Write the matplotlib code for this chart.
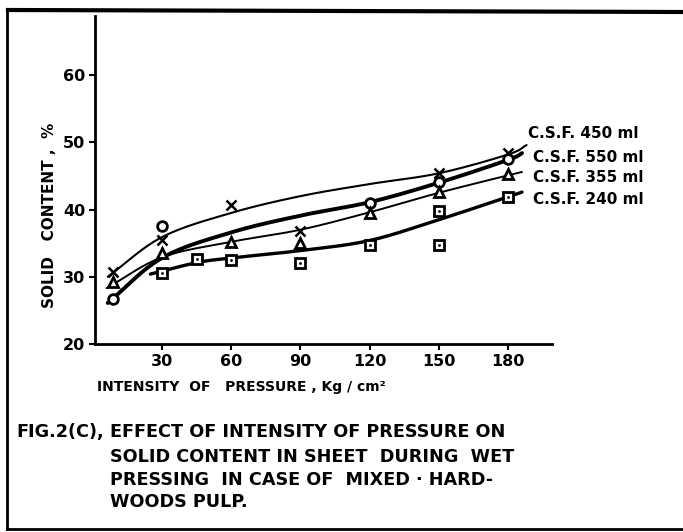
import numpy as np
import matplotlib
matplotlib.use("Agg")
import matplotlib.pyplot as plt
from matplotlib.lines import Line2D

# measured points (pressure Kg/cm2, solid content %)
x450 = [9, 30, 60, 90, 150, 180]
y450 = [30.7, 35.5, 40.7, 36.8, 45.4, 48.4]
x550 = [9, 30, 120, 150, 180]
y550 = [26.7, 37.6, 41.0, 44.1, 47.5]
x355 = [9, 30, 60, 90, 120, 150, 180]
y355 = [29.2, 33.5, 35.2, 35.1, 39.5, 42.6, 45.3]
x240 = [30, 45, 60, 90, 120, 150, 150, 180]
y240 = [30.6, 32.6, 32.5, 32.1, 34.7, 39.8, 34.7, 41.9]

# hand drawn curves
cx450 = [6.5, 30, 60, 90, 120, 150, 180, 188]
cy450 = [30.0, 35.9, 39.5, 42.0, 43.8, 45.4, 48.2, 49.6]
cx550 = [6.5, 30, 60, 90, 120, 150, 180, 186]
cy550 = [26.1, 32.8, 36.6, 39.1, 41.1, 44.0, 47.4, 48.4]
cx355 = [6, 30, 60, 90, 120, 150, 180, 186]
cy355 = [28.3, 32.9, 35.2, 37.0, 39.6, 42.5, 45.1, 45.6]
cx240 = [25, 45, 60, 90, 120, 150, 180, 186]
cy240 = [30.4, 32.1, 32.8, 33.9, 35.4, 38.5, 41.9, 42.6]

labels = ["C.S.F. 450 ml", "C.S.F. 550 ml", "C.S.F. 355 ml", "C.S.F. 240 ml"]

fig = plt.figure(figsize=(6.83, 5.32), dpi=100)
ax = fig.add_axes([95 / 683, 1 - 344 / 532, (552 - 95) / 683, (344 - 16) / 532])


def smooth(cx, cy, n=20):
    # catmull-rom through the traced points, only to get a smooth pen line
    P = np.column_stack([cx, cy]).astype(float)
    P = np.vstack([2 * P[0] - P[1], P, 2 * P[-1] - P[-2]])
    out = []
    t = np.linspace(0, 1, n, endpoint=False)[:, None]
    for i in range(1, len(P) - 2):
        p0, p1, p2, p3 = P[i - 1], P[i], P[i + 1], P[i + 2]
        out.append(0.5 * (2 * p1 + (-p0 + p2) * t
                          + (2 * p0 - 5 * p1 + 4 * p2 - p3) * t ** 2
                          + (-p0 + 3 * p1 - 3 * p2 + p3) * t ** 3))
    out.append(P[-2][None, :])
    out = np.vstack(out)
    return out[:, 0], out[:, 1]


for cx, cy, lw in [(cx450, cy450, 1.5), (cx550, cy550, 2.8),
                   (cx355, cy355, 1.4), (cx240, cy240, 2.4)]:
    xs, ys = smooth(cx, cy)
    ax.plot(xs, ys, color="black", lw=lw, solid_capstyle="round")

ax.plot(x450, y450, "x", color="black", ms=7, mew=1.8)
ax.plot(x550, y550, "o", color="black", mfc="white", ms=7, mew=2)
ax.plot(x355, y355, "^", color="black", mfc="white", ms=7, mew=2)
ax.plot(x240, y240, "s", color="black", mfc="white", ms=7, mew=2)
ax.plot(x240, y240, ".", color="black", ms=2)

ax.set_xlim(1, 199)
ax.set_ylim(20, 68.8)
ax.set_xticks([30, 60, 90, 120, 150, 180])
ax.set_yticks([20, 30, 40, 50, 60])
for s in ["top", "right"]:
    ax.spines[s].set_visible(False)
for s in ["left", "bottom"]:
    ax.spines[s].set_linewidth(2)
ax.tick_params(direction="out", length=4, width=1.5, pad=3, labelsize=11.5)
for t in ax.get_xticklabels() + ax.get_yticklabels():
    t.set_fontweight("bold")

# curve labels on the right
for lab, yy in zip(labels, [133, 157, 178, 200]):
    fig.text((528 if yy == 133 else 533) / 683, 1 - yy / 532, lab,
             fontsize=11, fontweight="bold", va="center", ha="left")

fig.text(50 / 683, 1 - 215 / 532, "SOLID   CONTENT ,  %", rotation=90,
         fontsize=11, fontweight="bold", va="center", ha="center")
fig.text(97 / 683, 1 - 387 / 532, "INTENSITY  OF   PRESSURE , Kg / cm²",
         fontsize=10, fontweight="bold", va="center", ha="left")

cap = ["EFFECT OF INTENSITY OF PRESSURE ON",
       "SOLID CONTENT IN SHEET  DURING  WET",
       "PRESSING  IN CASE OF  MIXED · HARD-",
       "WOODS PULP."]
fig.text(16 / 683, 1 - 432 / 532, "FIG.2(C),", fontsize=12.7,
         fontweight="bold", va="center", ha="left")
for line, yy in zip(cap, [432, 457, 480, 502]):
    fig.text(110 / 683, 1 - yy / 532, line, fontsize=12.7,
             fontweight="bold", va="center", ha="left")

# outer frame of the scanned page
frame = dict(color="black", transform=fig.transFigure)
fig.add_artist(Line2D([8 / 683, 1], [1 - 10 / 532, 1 - 12 / 532], lw=3, **frame))
fig.add_artist(Line2D([7 / 683, 7 / 683], [1 - 10 / 532, 1 - 529 / 532], lw=2, **frame))
fig.add_artist(Line2D([7 / 683, 1], [1 - 529 / 532, 1 - 529 / 532], lw=2, **frame))

fig.savefig("out.png", dpi=100)
